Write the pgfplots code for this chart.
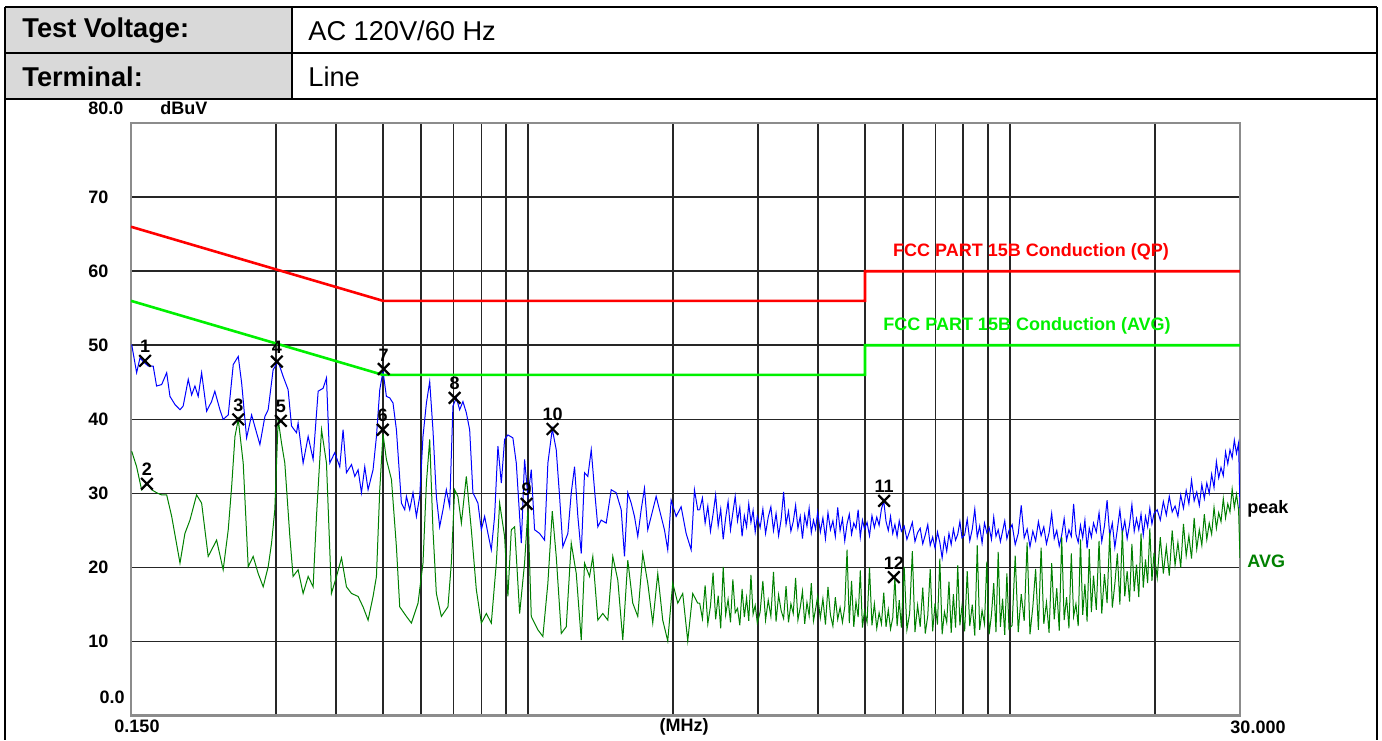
\documentclass[border=0pt]{standalone}
\usepackage{pgfplots}
\pgfplotsset{compat=1.18}
\usepackage{pgfplotstable}
\usepackage{fontspec}
\setmainfont{Liberation Sans}
\definecolor{hdrgray}{RGB}{217,217,217}
\definecolor{pkblue}{RGB}{0,0,255}
\definecolor{avgreen}{RGB}{0,128,0}
\definecolor{limred}{RGB}{255,0,0}
\definecolor{limgreen}{RGB}{0,240,0}
\newcommand\pf{\fontsize{9}{10}\selectfont\bfseries}
\newcommand\hf{\fontsize{13.6}{15}\selectfont}

\pgfplotstableread{
f dB
0.1505 50.1
0.1541 46.3
0.1566 48.3
0.1590 47.8
0.1629 47.2
0.1668 47.2
0.1695 44.5
0.1737 44.7
0.1779 46.3
0.1807 43.1
0.1851 42.0
0.1896 41.3
0.1925 41.8
0.1972 45.4
0.2004 43.3
0.2036 44.5
0.2068 43.1
0.2102 46.3
0.2153 41.1
0.2204 42.4
0.2239 43.8
0.2294 41.3
0.2330 40.0
0.2387 40.6
0.2445 47.4
0.2504 48.5
0.2545 44.9
0.2606 37.5
0.2669 40.6
0.2733 38.2
0.2777 36.6
0.2844 40.4
0.2889 41.3
0.2958 46.7
0.3030 47.8
0.3103 45.8
0.3178 44.0
0.3230 39.1
0.3308 38.2
0.3333 39.5
0.3414 34.1
0.3497 37.7
0.3581 34.6
0.3668 43.8
0.3756 44.2
0.3817 45.6
0.3878 34.1
0.3971 35.5
0.4067 33.6
0.4132 38.6
0.4199 32.8
0.4302 33.9
0.4370 32.3
0.4439 33.2
0.4511 30.1
0.4583 33.6
0.4656 30.5
0.4768 33.2
0.4846 37.7
0.4923 44.0
0.5000 46.5
0.5082 43.1
0.5164 42.9
0.5245 42.2
0.5331 38.6
0.5460 28.7
0.5547 27.8
0.5592 29.6
0.5681 27.8
0.5771 30.1
0.5865 26.9
0.5959 29.6
0.6053 37.7
0.6152 42.2
0.6250 45.1
0.6348 38.6
0.6452 29.6
0.6555 25.5
0.6659 27.8
0.6767 30.5
0.6876 28.2
0.6984 41.8
0.7098 42.9
0.7212 41.3
0.7326 42.4
0.7445 40.9
0.7565 38.6
0.7684 30.1
0.7870 28.7
0.7999 25.1
0.8126 26.9
0.8255 24.6
0.8389 22.4
0.8522 26.9
0.8658 36.4
0.8800 31.4
0.8939 37.3
0.9081 37.9
0.9300 37.5
0.9452 34.1
0.9681 23.3
0.9834 34.6
0.9991 29.6
1.0154 33.2
1.0315 25.1
1.0565 24.6
1.0820 23.7
1.0992 34.1
1.1225 38.7
1.1440 35.9
1.1624 29.6
1.1806 22.8
1.2093 24.6
1.2290 30.1
1.2486 33.6
1.2684 26.9
1.2892 21.9
1.3096 32.8
1.3304 32.3
1.3522 35.9
1.3736 30.5
1.3954 25.5
1.4183 26.4
1.4525 26.0
1.4876 30.5
1.5235 30.1
1.5604 27.8
1.5851 21.5
1.6103 30.1
1.6366 28.7
1.6626 26.9
1.6890 24.2
1.7166 27.8
1.7438 30.7
1.7715 25.1
1.8006 26.9
1.8440 29.6
1.8735 27.8
1.9185 25.1
1.9490 22.4
1.9809 29.1
2.0287 26.9
2.0777 28.2
2.1278 24.6
2.1794 22.4
2.2139 30.5
2.2491 27.8
2.27 27.8
}\bluelow

\pgfplotstableread{
f dB
0.1505 35.7
0.1541 33.6
0.1578 30.5
0.1616 31.4
0.1656 30.5
0.1695 30.1
0.1737 29.8
0.1779 29.8
0.1822 26.9
0.1896 20.6
0.1941 24.6
0.1988 26.4
0.2052 29.8
0.2102 28.7
0.2169 21.5
0.2258 23.7
0.2330 19.7
0.2387 25.1
0.2426 30.9
0.2465 37.7
0.2504 40.0
0.2564 34.1
0.2626 20.1
0.2689 21.5
0.2754 19.2
0.2821 17.4
0.2889 20.1
0.2936 23.3
0.2982 27.8
0.3030 40.0
0.3079 36.8
0.3128 34.1
0.3204 24.2
0.3254 18.8
0.3333 19.7
0.3414 16.5
0.3497 18.8
0.3581 17.4
0.3639 26.9
0.3728 38.6
0.3817 34.1
0.3909 16.5
0.4004 18.8
0.4101 21.3
0.4199 17.4
0.4302 16.5
0.4439 16.1
0.4545 14.7
0.4656 12.9
0.4768 16.1
0.4846 18.8
0.4923 30.5
0.5000 38.0
0.5082 34.6
0.5206 31.9
0.5331 22.8
0.5416 14.7
0.5592 13.4
0.5727 12.5
0.5911 15.2
0.6053 20.6
0.6152 31.4
0.6250 37.3
0.6348 25.1
0.6452 16.5
0.6608 13.4
0.6820 14.7
0.6931 20.6
0.7041 30.5
0.7153 29.6
0.7271 26.0
0.7445 32.3
0.7626 25.1
0.7810 17.0
0.7999 12.5
0.8192 13.8
0.8389 12.5
0.8592 20.6
0.8729 28.7
0.8939 24.2
0.9081 16.1
0.9230 25.1
0.9377 25.5
0.9604 13.8
0.9834 20.6
0.9991 27.8
1.0154 13.4
1.0479 11.6
1.0732 10.7
1.0992 17.9
1.1225 27.6
1.1440 21.5
1.1718 11.1
1.2000 12.0
1.2290 23.3
1.2587 19.2
1.2892 10.2
1.3096 20.6
1.3413 18.8
1.3624 21.5
1.3954 12.9
1.4291 13.8
1.4637 12.9
1.4989 21.5
1.5352 18.3
1.5722 10.2
1.6103 21.0
1.6490 15.2
1.6890 13.4
1.7296 21.9
1.7715 17.9
1.8142 12.5
1.8582 19.2
1.9029 12.9
1.9490 10.1
1.9959 17.9
2.0443 15.2
2.0935 16.5
2.1442 10.1
2.1959 16.5
2.2491 15.2
2.27 15.2
}\greenlow

\pgfplotstableread{
f pk av
2.27 27.8 15.2
2.30 29.4 13.1
2.33 26.0 17.6
2.36 28.3 12.4
2.39 24.9 14.8
2.42 27.2 19.3
2.45 29.8 13.0
2.48 25.6 16.2
2.51 27.9 11.8
2.54 23.8 20.1
2.57 26.7 13.6
2.60 28.9 15.7
2.63 25.1 12.6
2.66 27.4 18.4
2.69 29.6 13.9
2.72 26.3 14.5
2.75 28.1 12.2
2.78 24.2 17.1
2.81 27.0 13.3
2.84 25.5 15.9
2.87 28.6 12.8
2.90 26.1 19.0
2.93 27.7 13.7
2.96 24.8 14.9
2.99 26.9 12.5
3.03 25.4 14.0
3.07 27.9 18.2
3.11 24.6 12.9
3.15 26.8 15.6
3.19 28.2 13.4
3.23 25.0 19.4
3.27 27.3 12.7
3.31 24.3 16.3
3.35 26.5 14.2
3.39 30.2 13.1
3.43 25.8 17.5
3.47 27.6 12.6
3.51 24.9 15.1
3.55 26.2 13.8
3.59 28.4 18.6
3.63 25.3 12.9
3.67 26.9 14.6
3.71 23.9 16.8
3.75 27.1 12.4
3.79 25.6 15.3
3.83 28.0 13.5
3.87 24.7 17.9
3.91 26.4 12.8
3.95 25.2 14.4
3.99 27.5 16.1
4.04 24.8 13.2
4.09 26.7 15.8
4.14 23.9 12.3
4.19 27.4 17.4
4.24 25.1 13.6
4.29 26.3 12.1
4.34 24.2 16.0
4.39 28.1 13.0
4.44 25.0 14.6
4.49 26.6 12.6
4.54 23.6 14.7
4.59 25.9 22.4
4.64 27.2 12.5
4.69 24.5 18.2
4.74 26.0 12.0
4.79 25.3 15.4
4.84 27.8 13.3
4.89 24.1 19.6
4.94 26.4 11.9
4.99 25.2 14.2
5.05 26.1 12.6
5.11 24.3 20.0
5.17 27.0 12.2
5.23 25.4 15.1
5.29 26.8 11.8
5.35 25.7 13.9
5.41 27.9 12.4
5.47 29.0 16.6
5.53 26.2 12.0
5.59 25.0 14.3
5.65 26.9 11.7
5.71 24.6 13.2
5.77 25.8 18.7
5.83 24.2 12.1
5.89 26.3 15.6
5.95 24.9 11.9
6.03 25.6 20.1
6.11 23.8 11.6
6.19 24.9 13.8
6.27 26.1 22.2
6.35 23.5 11.3
6.43 24.7 14.9
6.51 25.3 12.0
6.59 23.2 17.3
6.67 24.4 11.1
6.75 25.8 13.5
6.83 23.0 19.8
6.91 24.1 11.4
6.99 22.6 15.2
7.07 24.8 12.3
7.15 23.4 21.2
7.23 21.3 11.0
7.31 23.9 14.0
7.39 22.2 12.6
7.47 24.6 18.1
7.55 23.1 11.2
7.63 25.2 16.4
7.71 23.7 11.9
7.79 24.5 20.3
7.87 26.2 12.2
7.95 24.0 14.8
8.05 24.4 11.4
8.15 26.5 19.5
8.25 23.6 12.1
8.35 25.2 15.0
8.45 27.9 10.8
8.55 24.1 23.0
8.65 25.6 11.6
8.75 23.3 14.2
8.85 26.0 12.4
8.95 24.7 20.8
9.05 25.4 11.0
9.15 23.8 13.6
9.25 26.8 17.9
9.35 24.2 11.3
9.45 25.1 22.1
9.55 23.5 12.0
9.65 24.9 15.8
9.75 26.3 10.9
9.85 23.9 19.2
9.95 25.0 11.7
10.10 25.8 12.2
10.25 23.1 21.6
10.40 24.6 11.3
10.55 28.4 16.4
10.70 24.0 12.8
10.85 25.2 23.4
11.00 22.8 11.0
11.15 24.9 14.7
11.30 23.6 19.8
11.45 26.2 11.6
11.60 24.3 22.7
11.75 25.5 12.4
11.90 23.2 15.3
12.05 24.7 11.2
12.20 27.3 20.6
12.35 23.9 13.0
12.50 25.0 17.2
12.65 22.9 11.5
12.80 24.4 24.1
12.95 26.6 12.9
13.10 23.7 16.0
13.25 25.1 11.8
13.40 24.2 21.9
13.55 28.6 13.4
13.70 24.5 15.1
13.85 23.4 12.1
14.00 25.7 23.8
14.15 24.0 13.6
14.30 26.4 17.8
14.45 22.6 12.7
14.60 25.3 22.5
14.75 24.1 14.0
14.90 26.0 18.9
15.1 24.8 14.3
15.3 27.4 23.6
15.5 23.5 13.8
15.7 25.6 19.1
15.9 29.1 15.2
16.1 24.3 24.7
16.3 26.0 14.6
16.5 22.7 17.8
16.7 25.2 21.9
16.9 27.8 15.0
17.1 24.6 25.0
17.3 26.3 16.1
17.5 23.9 19.5
17.7 25.8 15.4
17.9 28.5 23.2
18.1 24.9 16.8
18.3 26.6 20.4
18.5 25.1 16.0
18.7 27.2 24.6
18.9 24.4 17.3
19.1 26.9 21.1
19.3 25.5 17.9
19.5 28.0 25.3
19.7 25.9 18.2
19.9 27.3 22.0
20.2 27.8 18.6
20.5 26.4 24.1
20.8 28.9 19.2
21.1 27.1 22.8
21.4 29.6 18.9
21.7 27.5 25.0
22.0 28.3 20.3
22.3 26.9 23.4
22.6 29.8 20.0
22.9 28.0 25.9
23.2 30.4 21.6
23.5 28.6 24.3
23.8 31.8 21.2
24.1 29.0 26.7
24.4 30.2 22.5
24.7 28.4 25.1
25.0 31.2 23.0
25.3 29.3 27.2
25.6 31.4 23.8
25.9 30.0 26.0
26.2 32.6 24.5
26.5 30.8 28.1
26.8 34.3 25.3
27.1 32.1 27.4
27.4 33.5 26.2
27.7 32.4 29.3
28.0 35.6 26.7
28.3 34.0 28.6
28.6 35.9 27.5
28.9 34.8 30.6
29.2 37.2 28.1
29.5 35.4 29.9
29.8 36.8 27.8
30.0 28.0 21.3
}\noise

\begin{document}
\begin{tikzpicture}
\path[use as bounding box] (0,0) rectangle (691pt,-370pt);
% header table
\begin{scope}[x=0.5pt,y=-0.5pt]
\fill[hdrgray] (5,7) rectangle (292,99);
\draw[line width=0.9pt] (5,7) -- (1377,7);
\draw[line width=0.9pt] (5,53) -- (1377,53);
\draw[line width=0.9pt] (5,99) -- (1377,99);
\draw[line width=0.9pt] (5,7) -- (5,740);
\draw[line width=0.9pt] (1377,7) -- (1377,740);
\draw[line width=0.9pt] (292,7) -- (292,99);
\node[anchor=west,inner sep=0pt] at (22,31) {\hf\bfseries Test Voltage:};
\node[anchor=west,inner sep=0pt] at (308,31) {\hf AC 120V/60 Hz};
\node[anchor=west,inner sep=0pt] at (22,77) {\hf\bfseries Terminal:};
\node[anchor=west,inner sep=0pt] at (308,77) {\hf Line};
\end{scope}

\begin{axis}[
  at={(65.5pt,-357.85pt)}, anchor=south west,
  scale only axis, width=554.5pt, height=296.35pt,
  xmode=log, xmin=0.15, xmax=30, ymin=0, ymax=80,
  xtick={0.3,0.4,0.5,0.6,0.7,0.8,0.9,1,2,3,4,5,6,7,8,9,10,20},
  ytick={10,20,30,40,50,60,70},
  xticklabels={}, yticklabels={},
  major tick length=0pt,
  grid=major,
  major grid style={black!85, line width=0.85pt},
  axis line style={black!45, line width=1.4pt},
  clip=true,
]
\addplot[pkblue, line width=0.5pt] table[x=f,y=dB] {\bluelow};
\addplot[pkblue, line width=0.5pt] table[x=f,y=pk] {\noise};
\addplot[avgreen, line width=0.5pt] table[x=f,y=dB] {\greenlow};
\addplot[avgreen, line width=0.5pt] table[x=f,y=av] {\noise};
\addplot[limred, line width=1.3pt] coordinates {(0.15,66) (0.5,56) (5,56) (5,60) (30,60)};
\addplot[limgreen, line width=1.3pt] coordinates {(0.15,56) (0.5,46) (5,46) (5,50) (30,50)};
\addplot[black, only marks, mark=x, mark size=4.1pt, line width=1.1pt,
  nodes near coords, point meta=explicit symbolic,
  every node near coord/.style={anchor=south, inner sep=0pt, yshift=3.4pt, font=\pf, black}]
  table[x=f,y=dB,meta=lab] {
f dB lab
0.1604 47.9 1
0.1619 31.3 2
0.2504 40.0 3
0.3011 47.8 4
0.3069 39.8 5
0.4993 38.6 6
0.5017 46.8 7
0.7041 42.9 8
0.9930 28.6 9
1.1241 38.7 10
5.48 29.0 11
5.74 18.7 12
};
\end{axis}

\begin{scope}[x=0.5pt,y=-0.5pt]
\node[anchor=west,inner sep=0pt] at (88,108) {\pf 80.0};
\node[anchor=west,inner sep=0pt] at (160,108) {\pf dBuV};
\node[anchor=west,inner sep=0pt] at (88,197) {\pf 70};
\node[anchor=west,inner sep=0pt] at (88,271) {\pf 60};
\node[anchor=west,inner sep=0pt] at (88,345) {\pf 50};
\node[anchor=west,inner sep=0pt] at (88,419) {\pf 40};
\node[anchor=west,inner sep=0pt] at (88,493) {\pf 30};
\node[anchor=west,inner sep=0pt] at (88,567) {\pf 20};
\node[anchor=west,inner sep=0pt] at (88,641) {\pf 10};
\node[anchor=east,inner sep=0pt] at (125,697) {\pf 0.0};
\node[inner sep=0pt] at (137,726) {\pf 0.150};
\node[inner sep=0pt] at (684,727) {\pf (MHz)};
\node[inner sep=0pt] at (1258,727) {\pf 30.000};
\node[anchor=west,inner sep=0pt] at (1247,509) {\pf peak};
\node[anchor=west,inner sep=0pt,text=avgreen] at (1247,561) {\pf AVG};
\node[inner sep=0pt,text=limred] at (1031,252) {\pf FCC PART 15B Conduction (QP)};
\node[inner sep=0pt,text=limgreen] at (1027,326) {\pf FCC PART 15B Conduction (AVG)};
\end{scope}
\end{tikzpicture}
\end{document}
